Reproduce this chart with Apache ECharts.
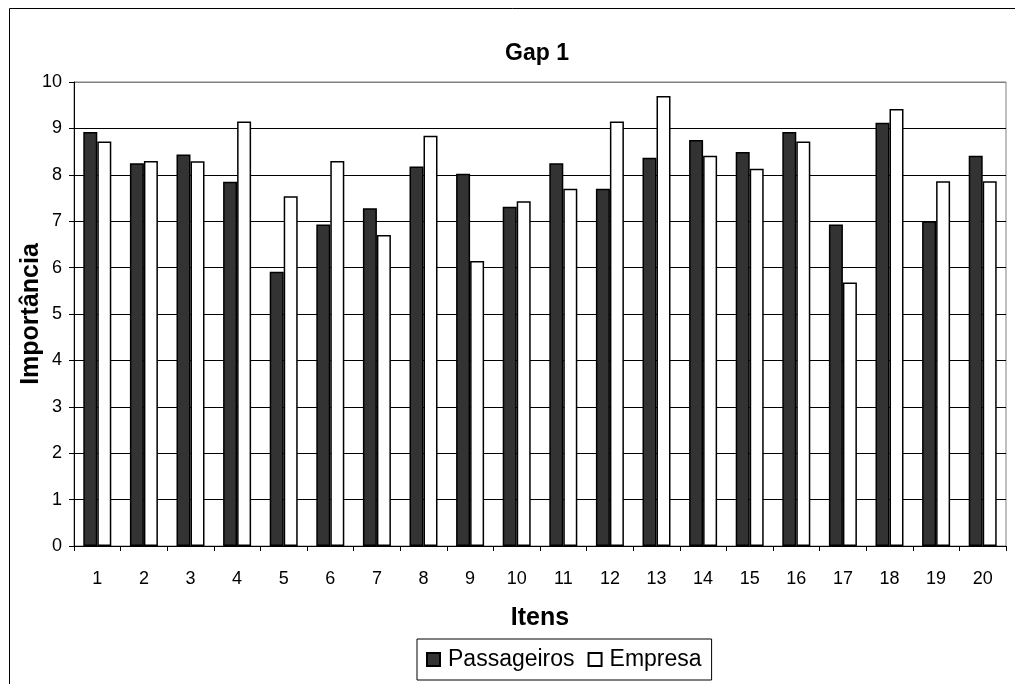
<!DOCTYPE html>
<html>
<head>
<meta charset="utf-8">
<script src="https://cdn.jsdelivr.net/npm/echarts@6/dist/echarts.min.js"></script>
<style>
html,body{margin:0;padding:0;background:#fff;}
#chart{width:1015px;height:684px;}
</style>
</head>
<body>
<div id="chart"></div>
<script>
const categories = ['1','2','3','4','5','6','7','8','9','10','11','12','13','14','15','16','17','18','19','20'];
const passageiros = [8.92,8.25,8.44,7.85,5.91,6.93,7.28,8.18,8.02,7.31,8.25,7.70,8.37,8.75,8.49,8.92,6.93,9.12,7.00,8.41];
const empresa = [8.72,8.30,8.29,9.15,7.54,8.30,6.70,8.84,6.14,7.43,7.70,9.15,9.70,8.41,8.13,8.72,5.68,9.42,7.86,7.86];
const yTicks = [0,1,2,3,4,5,6,7,8,9,10];

const FONT = 'Liberation Sans, Arial, sans-serif';
const chart = echarts.init(document.getElementById('chart'), null, {renderer:'canvas'});
const gridColors = yTicks.map((v,i)=> i === yTicks.length-1 ? '#808080' : '#000');

chart.setOption({
  animation:false,
  backgroundColor:'#fff',
  title:{
    text:'Gap 1', left:532, top:37, textAlign:'center',
    textStyle:{fontFamily:FONT, fontSize:23, fontWeight:'bold', color:'#000'}
  },
  graphic:[
    {type:'rect', shape:{x:9.5,y:8.5,width:1020,height:700}, style:{fill:'none', stroke:'#000', lineWidth:1}, z:-1}
  ],
  legend:{
    data:['Passageiros','Empresa'],
    left:417, top:639,
    itemWidth:13, itemHeight:13, itemGap:13,
    padding:[9,10,9,9],
    borderColor:'#000', borderWidth:1,
    icon:'rect',
    textStyle:{fontFamily:FONT, fontSize:23, color:'#000', padding:[0,0,0,3]}
  },
  grid:{left:74, right:9, top:82, bottom:138, show:true, borderColor:'#808080', borderWidth:1, containLabel:false},
  xAxis:{
    type:'category', data:categories, boundaryGap:true,
    name:'Itens', nameLocation:'middle', nameGap:60,
    nameTextStyle:{fontFamily:FONT, fontSize:25, fontWeight:'bold', color:'#000'},
    axisLine:{lineStyle:{color:'#000', width:1}},
    axisTick:{show:true, length:5, alignWithLabel:false, lineStyle:{color:'#000'}},
    axisLabel:{fontFamily:FONT, fontSize:18, color:'#000', margin:24, interval:0},
    splitLine:{show:false}
  },
  yAxis:{
    type:'value', min:0, max:10, interval:1,
    name:'Importância', nameLocation:'middle', nameGap:30, nameRotate:90, nameMoveOverlap:false,
    nameTextStyle:{fontFamily:FONT, fontSize:25, fontWeight:'bold', color:'#000'},
    axisLine:{show:true, lineStyle:{color:'#000', width:1}},
    axisTick:{show:true, length:5, lineStyle:{color:'#000'}},
    axisLabel:{fontFamily:FONT, fontSize:18, color:'#000', margin:12},
    splitLine:{show:true, lineStyle:{color:gridColors, width:1}}
  },
  series:[
    {name:'Passageiros', type:'bar', data:passageiros, barWidth:14, barGap:'0%',
     itemStyle:{color:'#333333', borderColor:'#000', borderWidth:1.5}},
    {name:'Empresa', type:'bar', data:empresa, barWidth:14, barGap:'0%',
     itemStyle:{color:'#ffffff', borderColor:'#000', borderWidth:1.5}}
  ]
});
</script>
</body>
</html>
